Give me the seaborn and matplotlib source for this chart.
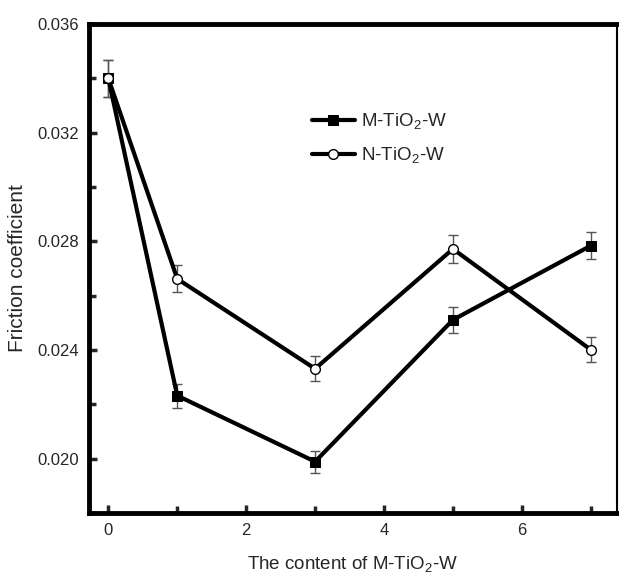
import numpy as np
import pandas as pd
import matplotlib
matplotlib.use("Agg")
import matplotlib.pyplot as plt
import seaborn as sns
from matplotlib.ticker import MultipleLocator

sns.set_style("white")
plt.rcParams['font.family'] = ['Liberation Sans', 'DejaVu Sans']
plt.rcParams['mathtext.fontset'] = 'custom'
plt.rcParams['mathtext.rm'] = 'Liberation Sans'

content = [0, 1, 3, 5, 7]
m_vals = [0.0340, 0.02232, 0.01989, 0.02511, 0.02784]
m_err = [0.00068, 0.00044, 0.00040, 0.00048, 0.00050]
n_vals = [0.0340, 0.02662, 0.02331, 0.02772, 0.02401]
n_err = [0.00068, 0.00050, 0.00046, 0.00053, 0.00046]
labels = ["M-TiO$_2$-W", "N-TiO$_2$-W"]

df = pd.DataFrame({
    "content": content * 2,
    "friction": m_vals + n_vals,
    "series": [labels[0]] * len(content) + [labels[1]] * len(content),
})

fig = plt.figure(figsize=(6.19, 5.8), dpi=100)
ax = fig.add_axes([89/619, 67/580, 528/619, 489/580])

# error bars
ax.errorbar(content, m_vals, yerr=m_err, fmt='none', ecolor='#555555',
            elinewidth=1.0, capsize=3.5, capthick=1.0, zorder=2)
ax.errorbar(content, n_vals, yerr=n_err, fmt='none', ecolor='#555555',
            elinewidth=1.0, capsize=3.5, capthick=1.0, zorder=2)

sns.lineplot(data=df, x="content", y="friction", hue="series", style="series",
             palette={labels[0]: "black", labels[1]: "black"},
             markers={labels[0]: "s", labels[1]: "o"}, dashes=False,
             linewidth=3, markersize=7, ax=ax, zorder=3)

for line in ax.get_lines():
    if line.get_marker() == 'o':
        line.set_markerfacecolor('white')
        line.set_markeredgecolor('black')
        line.set_markeredgewidth(1.0)
    elif line.get_marker() == 's':
        line.set_markerfacecolor('black')
        line.set_markeredgecolor('black')

ax.set_xlim(-0.28, 7.38)
ax.set_ylim(0.018, 0.036)
ax.xaxis.set_major_locator(MultipleLocator(2))
ax.xaxis.set_minor_locator(MultipleLocator(1))
ax.yaxis.set_minor_locator(MultipleLocator(0.002))
ax.set_yticks([0.020, 0.024, 0.028, 0.032, 0.036])
ax.set_yticklabels(["0.020", "0.024", "0.028", "0.032", "0.036"])
ax.tick_params(axis='both', which='major', direction='in', length=6, width=2.5,
               labelsize=12, pad=7)
ax.tick_params(axis='both', which='minor', direction='in', length=5, width=2.5)
ax.tick_params(axis='y', which='both', left=True)
ax.tick_params(axis='x', which='both', bottom=True)

for side in ['left', 'bottom', 'top']:
    ax.spines[side].set_linewidth(3.5)
    ax.spines[side].set_color('black')
ax.spines['right'].set_linewidth(1.5)
ax.spines['right'].set_color('black')

ax.set_xlabel("The content of M-TiO$_2$-W", fontsize=13.5, labelpad=12)
ax.set_ylabel("Friction coefficient", fontsize=15, labelpad=8)

handles, labs = ax.get_legend_handles_labels()
leg = ax.legend(handles, labs, loc='upper left', bbox_to_anchor=(0.39, 0.855),
                frameon=False, fontsize=13.5, handlelength=2.3, labelspacing=0.7,
                handletextpad=0.3)
for h in leg.legend_handles:
    h.set_linewidth(3)
    h.set_markersize(7)

fig.savefig("out.png", dpi=100)
